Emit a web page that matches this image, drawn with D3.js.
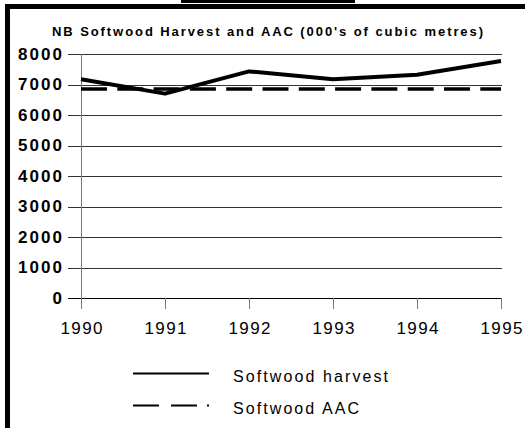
<!DOCTYPE html>
<html>
<head>
<meta charset="utf-8">
<script src="https://cdn.jsdelivr.net/npm/d3@7"></script>
<style>
  body { margin: 0; background: #fff; }
  svg { display: block; font-family: "Liberation Sans", Arial, sans-serif; }
</style>
</head>
<body>
<svg id="chart" width="525" height="429"></svg>
<script>
// data
const years = [1990, 1991, 1992, 1993, 1994, 1995];
const harvest = [7170, 6700, 7430, 7170, 7320, 7770];
const aac = [6850, 6850, 6850, 6850, 6850, 6850];
const yTicks = [0, 1000, 2000, 3000, 4000, 5000, 6000, 7000, 8000];
const title = "NB Softwood Harvest and AAC (000's of cubic metres)";
const legendLabels = ["Softwood harvest", "Softwood AAC"];

const svg = d3.select("#chart");

// plot box
const plotLeft = 81, plotRight = 501, plotTop = 54, plotBottom = 298;

const x = d3.scaleLinear().domain([1990, 1995]).range([plotLeft, plotRight]);
const y = d3.scaleLinear().domain([0, 8000]).range([plotBottom, plotTop]);

// frame
svg.append("rect").attr("x", 181).attr("y", 0).attr("width", 174).attr("height", 3).attr("fill", "#000");
svg.append("rect").attr("x", 5).attr("y", 4).attr("width", 520).attr("height", 5).attr("fill", "#000");
svg.append("rect").attr("x", 5).attr("y", 4).attr("width", 5).attr("height", 424).attr("fill", "#000");

// title
svg.append("text")
  .attr("x", 52).attr("y", 36)
  .attr("font-size", 13).attr("font-weight", "bold")
  .attr("textLength", 431).attr("lengthAdjust", "spacing")
  .text(title);

// gridlines (they run out past the axis as the tick marks)
svg.append("g")
  .selectAll("line")
  .data(yTicks)
  .join("line")
  .attr("x1", plotLeft - 13).attr("x2", plotRight + 1)
  .attr("y1", d => Math.round(y(d)) + 0.5).attr("y2", d => Math.round(y(d)) + 0.5)
  .attr("stroke", d => d == 0 ? "#000" : "#333")
  .attr("stroke-width", 1);

// y axis labels
const yAxis = svg.append("g")
  .attr("transform", `translate(${plotLeft - 13},0)`)
  .call(d3.axisLeft(y).tickValues(yTicks).tickSize(0).tickPadding(6).tickFormat(d3.format("d")));
yAxis.select(".domain").remove();
yAxis.selectAll("text")
  .attr("font-size", 17).attr("font-weight", "bold").attr("fill", "#000")
  .attr("font-family", "Liberation Sans, Arial, sans-serif")
  .each(function(d) { if (d > 0) d3.select(this).attr("textLength", 44).attr("lengthAdjust", "spacing"); });

// y axis line
svg.append("line")
  .attr("x1", plotLeft + 0.5).attr("x2", plotLeft + 0.5)
  .attr("y1", plotTop).attr("y2", plotBottom + 11)
  .attr("stroke", "#777");

// x axis
const xAxis = svg.append("g")
  .attr("transform", `translate(0,${plotBottom})`)
  .call(d3.axisBottom(x).tickValues(years).tickSize(11).tickPadding(13).tickFormat(d3.format("d")));
xAxis.select(".domain").remove();
xAxis.selectAll("line").attr("stroke", "#777");
xAxis.selectAll("text")
  .attr("font-size", 17).attr("fill", "#000")
  .attr("font-family", "Liberation Sans, Arial, sans-serif")
  .attr("textLength", 42).attr("lengthAdjust", "spacing");

// series
const line = d3.line().x((d, i) => x(years[i])).y(d => y(d));

svg.append("path")
  .datum(aac)
  .attr("d", line)
  .attr("fill", "none")
  .attr("stroke", "#000")
  .attr("stroke-width", 3.5)
  .attr("stroke-dasharray", "26,10.3");

svg.append("path")
  .datum(harvest)
  .attr("d", line)
  .attr("fill", "none")
  .attr("stroke", "#000")
  .attr("stroke-width", 4)
  .attr("stroke-linejoin", "round");

// legend
const legend = svg.append("g");
const legendRows = [
  { label: legendLabels[0], dash: null, y: 373.5, w: 155 },
  { label: legendLabels[1], dash: "26,12,26,10,2,100", y: 405.5, w: 126 }
];
legendRows.forEach(r => {
  legend.append("line")
    .attr("x1", 133).attr("x2", 209)
    .attr("y1", r.y).attr("y2", r.y)
    .attr("stroke", "#000").attr("stroke-width", 2)
    .attr("stroke-dasharray", r.dash);
  legend.append("text")
    .attr("x", 233).attr("y", r.y + 8.5)
    .attr("font-size", 16)
    .attr("textLength", r.w).attr("lengthAdjust", "spacing")
    .text(r.label);
});
</script>
</body>
</html>
